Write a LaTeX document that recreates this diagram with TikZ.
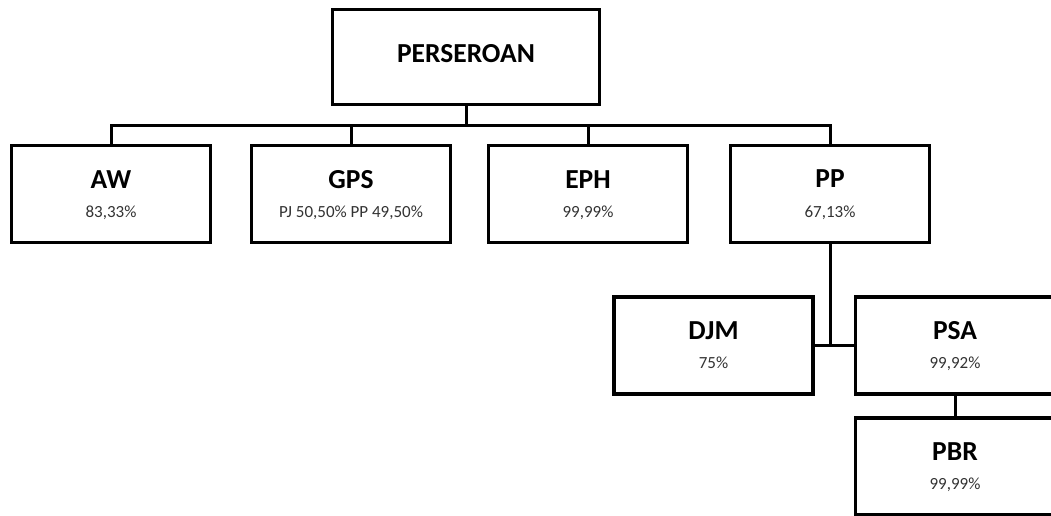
\documentclass[tikz,border=0pt]{standalone}
\usepackage{fontspec}
\setmainfont{Carlito}
\usepackage{tikz}
\usetikzlibrary{positioning,calc}

\begin{document}
\begin{tikzpicture}[
  x=1pt, y=1pt,
  box/.style={draw, line width=3.4pt, minimum width=199pt, minimum height=97pt, inner sep=0pt, fill=white},
  topbox/.style={box, minimum width=267pt, minimum height=95pt},
  nm/.style={font=\fontsize{27.5}{32}\selectfont\bfseries, anchor=base, inner sep=0pt},
  pct/.style={font=\fontsize{17}{20}\selectfont, text=black!80, anchor=base, inner sep=0pt},
  link/.style={line width=3pt},
]
\useasboundingbox[fill=white] (0,0) rectangle (1051,516);

% ---------- Perseroan ----------
\node[topbox] (top) at (466,459) {};
\node[nm] (top-n) at ($(top.center)+(0,-6)$) {PERSEROAN};

% ---------- anak perusahaan ----------
\node[box] (aw) at (111,322) {};
\node[box] (gps) at (351,322) {};
\node[box] (eph) at (588,322) {};
\node[box] (pp) at (830,322) {};
\node[nm] (aw-n) at ($(aw.center)+(0,5.5)$) {AW};
\node[pct] (aw-p) at ($(aw.center)+(0,-23.5)$) {83,33\%};
\node[nm] (gps-n) at ($(gps.center)+(0,5.5)$) {GPS};
\node[pct] (gps-p) at ($(gps.center)+(0,-23.5)$) {PJ 50,50\% PP 49,50\%};
\node[nm] (eph-n) at ($(eph.center)+(0,5.5)$) {EPH};
\node[pct] (eph-p) at ($(eph.center)+(0,-23.5)$) {99,99\%};
\node[nm] (pp-n) at ($(pp.center)+(0,6.5)$) {PP};
\node[pct] (pp-p) at ($(pp.center)+(0,-23.5)$) {67,13\%};

% ---------- cucu perusahaan ----------
\node[box] (djm) at (713.5,170.5) {};
\node[box] (psa) at (955,170.5) {};
\node[box] (pbr) at (955,49.5) {};
\node[nm] (djm-n) at ($(djm.center)+(0,6)$) {DJM};
\node[pct] (djm-p) at ($(djm.center)+(0,-23)$) {75\%};
\node[nm] (psa-n) at ($(psa.center)+(0,6)$) {PSA};
\node[pct] (psa-p) at ($(psa.center)+(0,-23)$) {99,92\%};
\node[nm] (pbr-n) at ($(pbr.center)+(0,6)$) {PBR};
\node[pct] (pbr-p) at ($(pbr.center)+(0,-23)$) {99,99\%};

% ---------- garis ----------
\coordinate (bus) at (466,390);
\coordinate (jn) at (830,170);
\draw[link] (top.south) -- (bus);
\foreach \c in {aw,gps,eph,pp}
  \draw[link] (bus) -| (\c.north);
\draw[link] (pp.south) -- (jn);
\draw[link] (djm.east) -- (psa.west);
\draw[link] (psa.south) -- (pbr.north);
\end{tikzpicture}
\end{document}
